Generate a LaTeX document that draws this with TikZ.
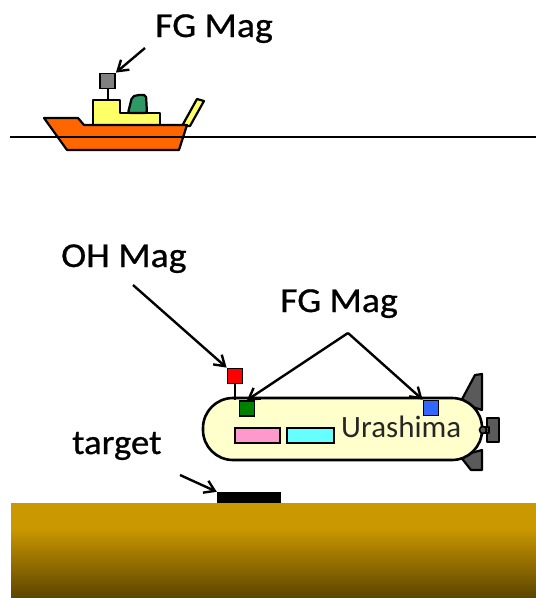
\documentclass[tikz,border=0pt]{standalone}
\usepackage{fontspec}
\setmainfont{Carlito}
% regular Carlito, slightly emboldened, for the callout labels
\newfontfamily\heavyfont{Carlito}[BoldFont={Carlito}, BoldFeatures={FakeBold=0.7}]
\usetikzlibrary{arrows.meta}
\definecolor{hullc}{HTML}{FF6600}
\definecolor{deckc}{HTML}{FFFF66}
\definecolor{cabinc}{HTML}{2E9964}
\definecolor{finc}{HTML}{5A5A5A}
\definecolor{bodyc}{HTML}{FFFFCC}
\definecolor{pinkc}{HTML}{FF99CC}
\definecolor{cyanc}{HTML}{66FFFF}
\definecolor{bluec}{HTML}{3366FF}
\definecolor{greenc}{HTML}{008000}
\definecolor{sandc}{RGB}{202,152,0}
\definecolor{mudc}{RGB}{92,68,0}
\begin{document}
\begin{tikzpicture}[x=1pt,y=-1pt,
  outline/.style={draw=black, line width=2.2pt, line join=round},
  arr/.style={draw=black, line width=2.4pt, -{Straight Barb[length=10pt,width=13pt,line width=2.4pt]}},
  lbl/.style={anchor=base west, inner sep=0pt, font=\heavyfont\bfseries\fontsize{35}{40}\selectfont},
  sensor/.style={draw=black, line width=1.8pt, minimum size=15pt, inner sep=0pt},
]
\useasboundingbox (0,0) rectangle (536,598);

% ---- survey ship ----
\draw[outline, fill=deckc] (182,126) -- (190,126) -- (204,101) -- (197,99) -- cycle;
\draw[outline, fill=deckc] (93,125) -- (93,100) -- (120,100) -- (120,113) -- (160,113) -- (160,125) -- cycle;
\draw[outline, fill=cabinc, rounded corners=2pt] (128,113) -- (132,97) -- (137,95) -- (146,95) -- (147,113) -- cycle;
\draw[outline, fill=hullc] (44,118) -- (78,118) -- (84,125) -- (187,125) -- (179,150) -- (67,150) -- cycle;
\draw[line width=2pt] (108,100) -- (108,88);
\node[sensor, fill=gray] (shipmag) at (107.5,81) {};

% sea surface
\draw[line width=2.2pt] (10,137) -- (536,137);

% ---- seabed ----
\fill[sandc] (11,503) rectangle (536,529);
\shade[top color=sandc, bottom color=mudc] (11,528) rectangle (536,598);
\node[fill=black, minimum width=64pt, minimum height=11pt, inner sep=0pt] (tgt) at (249,497.5) {};

% ---- AUV Urashima ----
\draw[outline, fill=finc] (460,403) -- (475,375) -- (482,374) -- (482,410) -- cycle;
\draw[outline, fill=finc] (460,456) -- (471,470) -- (482,470) -- (482,450) -- cycle;
\draw[outline, fill=finc] (487,418) rectangle (499,442);
\draw[outline, fill=finc] (480,427) rectangle (489,433);
\draw[line width=2.6pt, fill=bodyc, rounded corners=30pt] (203,398) rectangle (482,460);
\draw[line width=1.6pt, fill=finc] (483,430) circle (3.5pt);
\draw[line width=1.8pt, fill=pinkc] (235,428) rectangle (280,443);
\draw[line width=1.8pt, fill=cyanc] (287,428) rectangle (334,443);
\node[anchor=base west, inner sep=0pt, font=\fontsize{31}{36}\selectfont, text=black!85] (auvname) at (341,437) {Urashima};

\draw[line width=2pt] (235,384) -- (235,400);
\node[sensor, fill=red] (ohmag) at (235,376) {};
\node[sensor, fill=greenc] (fgfront) at (247,408.5) {};
\node[sensor, fill=bluec] (fgrear) at (431,408) {};

% ---- labels ----
\node[lbl] (fgtop) at (155,37) {\scalebox{1.08}[1]{FG Mag}};
\node[lbl] (ohlbl) at (61,267) {\scalebox{1.08}[1]{OH Mag}};
\node[lbl] (fglow) at (280,312) {\scalebox{1.08}[1]{FG Mag}};
\node[lbl] (tgtlbl) at (72,454) {\scalebox{1.05}[1]{target}};

% ---- pointers ----
\coordinate (p1) at (145,48);
\coordinate (p2) at (133,285);
\coordinate (apex) at (348,333);
\coordinate (p3) at (180,475);
\draw[arr] (p1) -- (shipmag.north east);
\draw[arr] (p2) -- (ohmag.north west);
\draw[arr] (apex) -- (fgfront.north);
\draw[arr] (apex) -- (fgrear.north west);
\draw[arr] (p3) -- (tgt.north west);
\end{tikzpicture}
\end{document}
